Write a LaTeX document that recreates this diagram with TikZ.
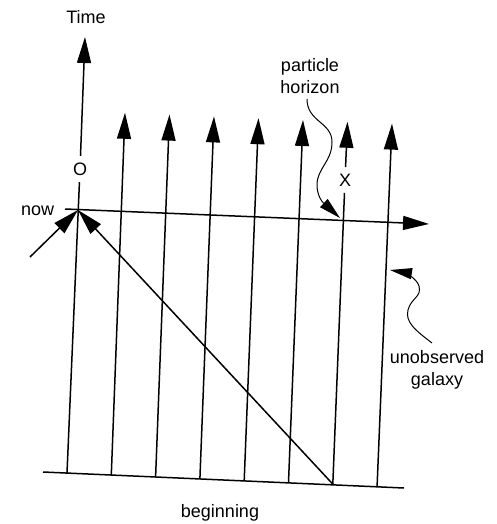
\documentclass[tikz,border=0pt]{standalone}
\usepackage{fontspec}
\setmainfont{Liberation Sans}
\usetikzlibrary{arrows.meta}

\begin{document}
\begin{tikzpicture}[x=1pt,y=-1pt,line width=1.5pt,
  font=\fontsize{18}{21.5}\selectfont,
  arr/.style={-{Triangle[length=26pt,width=14pt]}},
  warr/.style={line width=1pt,-{Triangle[length=22pt,width=11pt]}},
  lbl/.style={inner sep=0pt,align=center},
  gap/.style={inner sep=6pt}]
\useasboundingbox (0,0) rectangle (496,524);
% world lines of the galaxies
\foreach \i in {1,...,8}{
  \coordinate (b\i) at ({67+44.3*(\i-1)},{473+1.85*(\i-1)});
  \coordinate (t\i) at ({80.5+44.5*(\i-1)},{111+1.8*(\i-1)});
}
\coordinate (t1) at (85,37);
\coordinate (bl) at (43,472);
\coordinate (br) at (404,488);
\coordinate (nl) at (65,209);
\coordinate (nr) at (429,224);
\coordinate (E) at (78,210);
\coordinate (in) at (30,257);
\coordinate (H) at (340,218);
\coordinate (G) at (390,270);
% labels
\node[lbl,anchor=base] (time) at (86,24) {Time};
\node[lbl,gap] (O) at (80,169) {O};
\node[lbl,gap] (X) at (345,180) {X};
\node[lbl,anchor=base east] (now) at (55,215) {now};
\node[lbl] (ph) at (310,76) {particle\\horizon};
\node[lbl] (ug) at (437,370) {unobserved\\galaxy};
\node[lbl,anchor=base] (beg) at (220,517) {beginning};
% lines
\draw (bl) -- (br);
\draw[arr] (nl) -- (nr);
\draw (b1) -- (O); \draw[arr] (O) -- (t1);
\foreach \i in {2,3,4,5,6,8} \draw[arr] (b\i) -- (t\i);
\draw (b7) -- (X); \draw[arr] (X) -- (t7);
\draw[arr] (b7) -- (E);
\draw[arr] (in) -- (E);
% wavy pointers
\draw[warr] (307,99) .. controls (307,122) and (332,122) .. (332,142)
  .. controls (332,162) and (317,168) .. (317,185)
  .. controls (317,200) and (327,206) .. (H);
\draw[warr] (432,343) .. controls (415,330) and (405,322) .. (408,310)
  .. controls (411,298) and (422,297) .. (419,286)
  .. controls (417,278) and (402,272) .. (G);
\end{tikzpicture}
\end{document}
